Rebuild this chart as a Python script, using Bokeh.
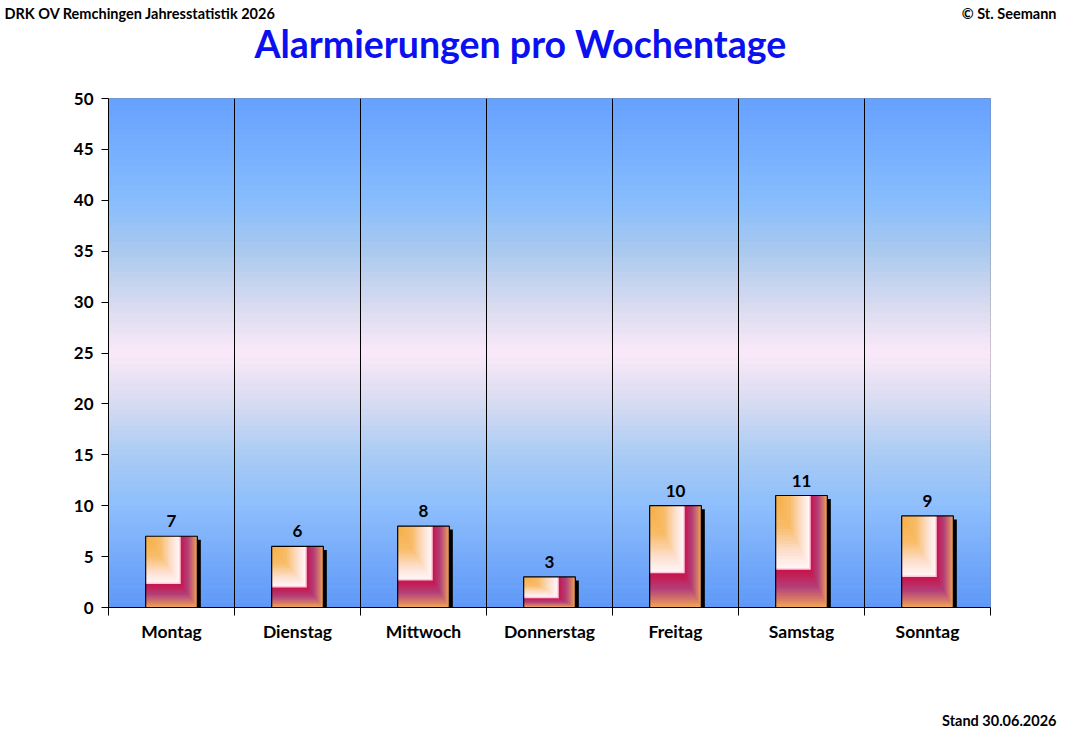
from bokeh.plotting import figure
from bokeh.models import FixedTicker, Range1d, ColumnDataSource
from bokeh.layouts import column
from bokeh.embed import file_html
from bokeh.resources import INLINE
from bokeh.core.properties import value

days = ["Montag", "Dienstag", "Mittwoch", "Donnerstag", "Freitag", "Samstag", "Sonntag"]
counts = [7, 6, 8, 3, 10, 11, 9]
y_ticks = [0, 5, 10, 15, 20, 25, 30, 35, 40, 45, 50]
title_text = "Alarmierungen pro Wochentage"
header_left = "DRK OV Remchingen Jahresstatistik 2026"
header_right = "© St. Seemann"
footer_text = "Stand 30.06.2026"

FONT = "Lato"
W, H_TOTAL = 1058, 728
HEAD_H = 75
L, T = 108, 98 - HEAD_H
R = W - 990
B = 52
MAIN_H = T + 509 + B
FOOT_H = H_TOTAL - HEAD_H - MAIN_H
n = len(days)
ymax = 50


def blank_fig(h):
    f = figure(width=W, height=h, output_backend="svg", toolbar_location=None,
               x_range=Range1d(0, W), y_range=Range1d(h, 0), frame_align=False,
               min_border_left=0, min_border_right=0, min_border_top=0, min_border_bottom=0)
    f.axis.visible = False
    f.grid.visible = False
    f.outline_line_color = None
    f.background_fill_color = "white"
    f.border_fill_color = "white"
    return f


# header strip
head = blank_fig(HEAD_H)
head.text(x=[4], y=[13], text=[header_left], text_align="left", text_baseline="middle",
          text_font=value(FONT), text_font_style="bold", text_font_size="14.5px", text_color="black")
head.text(x=[1056], y=[13], text=[header_right], text_align="right", text_baseline="middle",
          text_font=value(FONT), text_font_style="bold", text_font_size="14.5px", text_color="black")
head.text(x=[520], y=[43], text=[title_text], text_align="center", text_baseline="middle",
          text_font=value(FONT), text_font_style="bold", text_font_size="37.5px", text_color="#0a10f0")

# main chart
p = figure(width=W, height=MAIN_H, output_backend="svg", toolbar_location=None,
           x_range=Range1d(0, n), y_range=Range1d(0, ymax), frame_align=False,
           min_border_left=L, min_border_right=R, min_border_top=T, min_border_bottom=B)
p.background_fill_color = "white"
p.border_fill_color = "white"
p.outline_line_color = "#808080"
p.xgrid.visible = False
p.ygrid.visible = False


def hex2rgb(h):
    h = h.lstrip("#")
    return tuple(int(h[i:i + 2], 16) for i in (0, 2, 4))


def interp(stops, t):
    for (t0, c0), (t1, c1) in zip(stops[:-1], stops[1:]):
        if t0 <= t <= t1:
            f = 0 if t1 == t0 else (t - t0) / (t1 - t0)
            a, b = hex2rgb(c0), hex2rgb(c1)
            return "#%02x%02x%02x" % tuple(int(round(a[i] + (b[i] - a[i]) * f)) for i in range(3))
    return stops[-1][1]


# background gradient
bg_stops = [(0, "#5e98f8"), (10, "#8ebefc"), (15, "#a9cbf4"), (20, "#d6dbf2"),
            (25, "#fbe9f8"), (30, "#d6daf0"), (35, "#aac9ee"), (40, "#87bdfd"), (50, "#66a1ff")]
steps = 100
bg = dict(left=[], right=[], bottom=[], top=[], color=[])
for k in range(steps):
    y0 = ymax * k / steps
    y1 = ymax * (k + 1) / steps
    bg["left"].append(0); bg["right"].append(n)
    bg["bottom"].append(y0); bg["top"].append(y1)
    bg["color"].append(interp(bg_stops, (y0 + y1) / 2))
p.quad(source=ColumnDataSource(bg), left="left", right="right", bottom="bottom", top="top",
       fill_color="color", line_color="color", line_width=1)

# separators
bounds = list(range(1, n))
p.segment(x0=bounds, y0=[0] * len(bounds), x1=bounds, y1=[ymax] * len(bounds),
          line_color="black", line_width=1)

# bars
hw = 0.205
xpx = (W - L - R) / n
ypx = 509 / ymax
centers = [i + 0.5 for i in range(n)]

p.quad(left=[c + hw - 0.005 for c in centers], right=[c + hw + 3.5 / xpx for c in centers],
       bottom=[0] * n, top=[v - 3.5 / ypx for v in counts], fill_color="black", line_color=None)

outer_stops = [(0, "#c8124c"), (0.15, "#c41a52"), (0.5, "#b4407a"), (0.8, "#d47868"), (1, "#f2a456")]
inner_stops = [(0, "#f6ae44"), (0.45, "#f8bc68"), (0.8, "#fde0d0"), (1, "#fff4f4")]
fx, fy = 0.65, 0.35
bars = dict(left=[], right=[], bottom=[], top=[], color=[])
N = 24
for c, v in zip(centers, counts):
    x0 = c - hw
    Wd = 2 * hw
    for k in range(N):
        s = 1 - k / N
        bars["left"].append(x0)
        bars["right"].append(x0 + Wd * (fx + (1 - fx) * s))
        bars["bottom"].append(v * fy * (1 - s))
        bars["top"].append(v)
        bars["color"].append(interp(outer_stops, s))
    bars["left"].append(x0); bars["right"].append(x0 + Wd * fx + 1.5 / xpx)
    bars["bottom"].append(v * fy - 1.5 / ypx); bars["top"].append(v)
    bars["color"].append("#ffc8dc")
    for k in range(N):
        s = 1 - k / N
        bars["left"].append(x0)
        bars["right"].append(x0 + Wd * fx * s)
        bars["bottom"].append(v - v * (1 - fy) * s)
        bars["top"].append(v)
        bars["color"].append(interp(inner_stops, s))
p.quad(source=ColumnDataSource(bars), left="left", right="right", bottom="bottom", top="top",
       fill_color="color", line_color=None)
p.quad(left=[c - hw for c in centers], right=[c + hw for c in centers], bottom=[0] * n, top=counts,
       fill_color=None, line_color="black", line_width=1.2)

# value labels
p.text(x=centers, y=counts, text=[str(v) for v in counts], text_align="center",
       text_baseline="bottom", y_offset=-9, text_font=value(FONT), text_font_style="bold",
       text_font_size="17px", text_color="black")

# axes
xa = p.xaxis[0]
xa.ticker = FixedTicker(ticks=centers, minor_ticks=list(range(0, n + 1)))
xa.major_label_overrides = {c: d for c, d in zip(centers, days)}
xa.major_tick_line_color = None
xa.major_tick_out = 0
xa.minor_tick_out = 8
xa.minor_tick_in = 0
xa.minor_tick_line_color = "black"
xa.axis_line_color = "black"
xa.major_label_standoff = 5
xa.major_label_text_font = FONT
xa.major_label_text_font_style = "bold"
xa.major_label_text_font_size = "17.5px"
xa.major_label_text_color = "black"

ya = p.yaxis[0]
ya.ticker = FixedTicker(ticks=y_ticks)
ya.major_tick_out = 7
ya.major_tick_in = 0
ya.minor_tick_line_color = None
ya.major_tick_line_color = "black"
ya.axis_line_color = "black"
ya.major_label_standoff = 8
ya.major_label_text_font = FONT
ya.major_label_text_font_style = "bold"
ya.major_label_text_font_size = "17px"
ya.major_label_text_color = "black"

# footer strip
foot = blank_fig(FOOT_H)
foot.text(x=[1056], y=[FOOT_H - 8], text=[footer_text], text_align="right", text_baseline="middle",
          text_font=value(FONT), text_font_style="bold", text_font_size="14.5px", text_color="black")

layout = column(head, p, foot, spacing=0)
open("out.html", "w").write(file_html(layout, INLINE))
